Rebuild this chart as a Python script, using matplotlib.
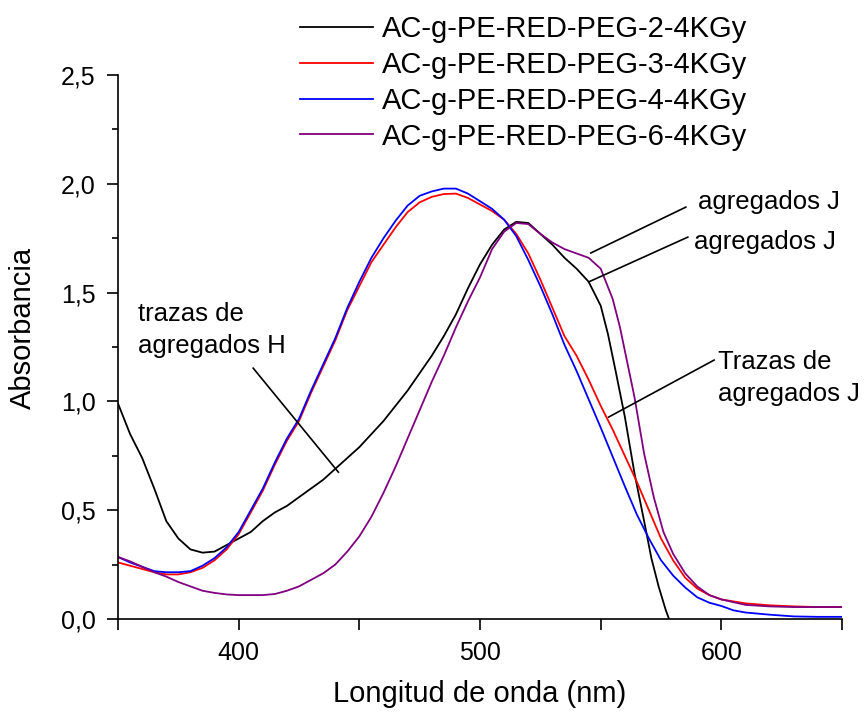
import numpy as np
import matplotlib
matplotlib.use('Agg')
import matplotlib.pyplot as plt
from matplotlib.ticker import MultipleLocator, FuncFormatter

plt.rcParams['font.family'] = ['Liberation Sans', 'DejaVu Sans']

# --- data ---
labels = ['AC-g-PE-RED-PEG-2-4KGy', 'AC-g-PE-RED-PEG-3-4KGy',
          'AC-g-PE-RED-PEG-4-4KGy', 'AC-g-PE-RED-PEG-6-4KGy']
colors = ['#000000', '#ff0000', '#0000ff', '#800080']

wl_peg2 = [350, 355, 360, 365, 370, 375, 380, 385, 390, 395, 400, 405, 410,
           415, 420, 425, 430, 435, 440, 445, 450, 455, 460, 465, 470, 475,
           480, 485, 490, 495, 500, 505, 510, 515, 520, 525, 530, 535, 540,
           545, 550, 553, 556, 560, 564, 568, 571, 574, 577, 580]
abs_peg2 = [0.99, 0.85, 0.74, 0.60, 0.45, 0.37, 0.32, 0.305, 0.31, 0.34, 0.37,
            0.40, 0.45, 0.49, 0.52, 0.56, 0.60, 0.64, 0.69, 0.74, 0.79, 0.85,
            0.91, 0.98, 1.05, 1.13, 1.21, 1.30, 1.40, 1.52, 1.63, 1.72, 1.79,
            1.825, 1.82, 1.77, 1.72, 1.66, 1.61, 1.55, 1.44, 1.31, 1.15, 0.93,
            0.67, 0.45, 0.28, 0.15, 0.04, -0.05]

wl_peg3 = [350, 355, 360, 365, 370, 375, 380, 385, 390, 395, 400, 405, 410,
           415, 420, 425, 430, 435, 440, 445, 450, 455, 460, 465, 470, 475,
           480, 485, 490, 495, 500, 505, 510, 515, 520, 525, 530, 535, 540,
           545, 550, 555, 560, 565, 570, 575, 580, 585, 590, 595, 600, 610,
           620, 630, 640, 650]
abs_peg3 = [0.26, 0.245, 0.23, 0.215, 0.205, 0.205, 0.215, 0.235, 0.27, 0.32,
            0.39, 0.49, 0.59, 0.71, 0.82, 0.91, 1.04, 1.16, 1.28, 1.42, 1.53,
            1.64, 1.72, 1.80, 1.87, 1.915, 1.94, 1.953, 1.955, 1.935, 1.905,
            1.875, 1.835, 1.77, 1.68, 1.56, 1.43, 1.30, 1.21, 1.10, 0.98, 0.87,
            0.75, 0.63, 0.50, 0.37, 0.27, 0.19, 0.14, 0.11, 0.09, 0.072, 0.063,
            0.058, 0.055, 0.055]

wl_peg4 = [350, 355, 360, 365, 370, 375, 380, 385, 390, 395, 400, 405, 410,
           415, 420, 425, 430, 435, 440, 445, 450, 455, 460, 465, 470, 475,
           480, 485, 490, 495, 500, 505, 510, 515, 520, 525, 530, 535, 540,
           545, 550, 555, 560, 565, 570, 575, 580, 585, 590, 595, 600, 605,
           610, 620, 630, 640, 650]
abs_peg4 = [0.285, 0.26, 0.24, 0.22, 0.215, 0.215, 0.22, 0.245, 0.28, 0.33,
            0.40, 0.50, 0.60, 0.72, 0.83, 0.92, 1.05, 1.17, 1.29, 1.43, 1.55,
            1.66, 1.75, 1.83, 1.90, 1.945, 1.965, 1.978, 1.978, 1.955, 1.92,
            1.885, 1.835, 1.76, 1.65, 1.53, 1.40, 1.26, 1.14, 1.01, 0.88,
            0.745, 0.61, 0.48, 0.37, 0.27, 0.20, 0.145, 0.10, 0.075, 0.06,
            0.04, 0.03, 0.02, 0.012, 0.01, 0.01]

wl_peg6 = [350, 355, 360, 365, 370, 375, 380, 385, 390, 395, 400, 405, 410,
           415, 420, 425, 430, 435, 440, 445, 450, 455, 460, 465, 470, 475,
           480, 485, 490, 495, 500, 505, 510, 515, 520, 525, 530, 535, 540,
           545, 550, 555, 558, 561, 564, 568, 572, 576, 580, 585, 590, 595,
           600, 610, 620, 630, 640, 650]
abs_peg6 = [0.285, 0.265, 0.24, 0.215, 0.195, 0.17, 0.15, 0.13, 0.12, 0.113,
            0.11, 0.11, 0.11, 0.115, 0.13, 0.15, 0.18, 0.21, 0.25, 0.31, 0.38,
            0.47, 0.58, 0.70, 0.83, 0.96, 1.09, 1.21, 1.34, 1.46, 1.57, 1.70,
            1.78, 1.82, 1.815, 1.77, 1.73, 1.70, 1.68, 1.66, 1.61, 1.47, 1.34,
            1.18, 1.02, 0.76, 0.56, 0.40, 0.30, 0.21, 0.15, 0.11, 0.09, 0.065,
            0.058, 0.055, 0.055, 0.055]

series = [(wl_peg2, abs_peg2), (wl_peg3, abs_peg3),
          (wl_peg4, abs_peg4), (wl_peg6, abs_peg6)]

# annotation texts, text anchor (data coords) and pointer line (data coords)
notes = [
    ('trazas de\nagregados H', (358.3, 1.328), (406, 1.153), (441.3, 0.675)),
    ('agregados J', (590.2, 1.916), (585.3, 1.893), (545.9, 1.682)),
    ('agregados J', (588.6, 1.733), (586.1, 1.755), (545.0, 1.549)),
    ('Trazas de\nagregados J', (598.5, 1.108), (597.0, 1.19), (553.3, 0.928)),
]

fig = plt.figure(figsize=(8.66, 7.13), dpi=100)
ax = fig.add_axes([0.1363, 0.1318, 0.836, 0.763])

for (wl, ab), c, lab in zip(series, colors, labels):
    ax.plot(wl, ab, color=c, linewidth=1.3, label=lab)

for txt, tpos, p0, p1 in notes:
    ax.text(tpos[0], tpos[1], txt, fontsize=18.5, ha='left', va='center',
            linespacing=1.45)
    ax.plot([p0[0], p1[0]], [p0[1], p1[1]], color='black', linewidth=1.2)

ax.set_xlim(350, 650)
ax.set_ylim(0, 2.5)
ax.spines['top'].set_visible(False)
ax.spines['right'].set_visible(False)
ax.spines['left'].set_linewidth(1.2)
ax.spines['bottom'].set_linewidth(1.2)

ax.xaxis.set_major_locator(MultipleLocator(50))
ax.xaxis.set_major_formatter(FuncFormatter(
    lambda v, p: f'{v:.0f}' if int(round(v)) % 100 == 0 else ''))
ax.yaxis.set_major_locator(MultipleLocator(0.5))
ax.yaxis.set_minor_locator(MultipleLocator(0.25))
ax.yaxis.set_major_formatter(FuncFormatter(
    lambda v, p: f'{v:.1f}'.replace('.', ',')))
ax.tick_params(axis='both', which='major', direction='out', length=8,
               width=1.2, labelsize=18, pad=8)
ax.tick_params(axis='y', which='minor', direction='out', length=4, width=1.2)

ax.set_xlabel('Longitud de onda (nm)', fontsize=21)
ax.set_ylabel('Absorbancia', fontsize=21)
ax.xaxis.set_label_coords(0.5, -0.112)
ax.yaxis.set_label_coords(-0.112, 0.535)

fig.legend(loc='upper left', bbox_to_anchor=(300 / 866, 0.979), frameon=False,
           fontsize=21, handlelength=2.5, handletextpad=0.3, labelspacing=0.27,
           borderpad=0, borderaxespad=0)

plt.savefig('out.png', dpi=100)
